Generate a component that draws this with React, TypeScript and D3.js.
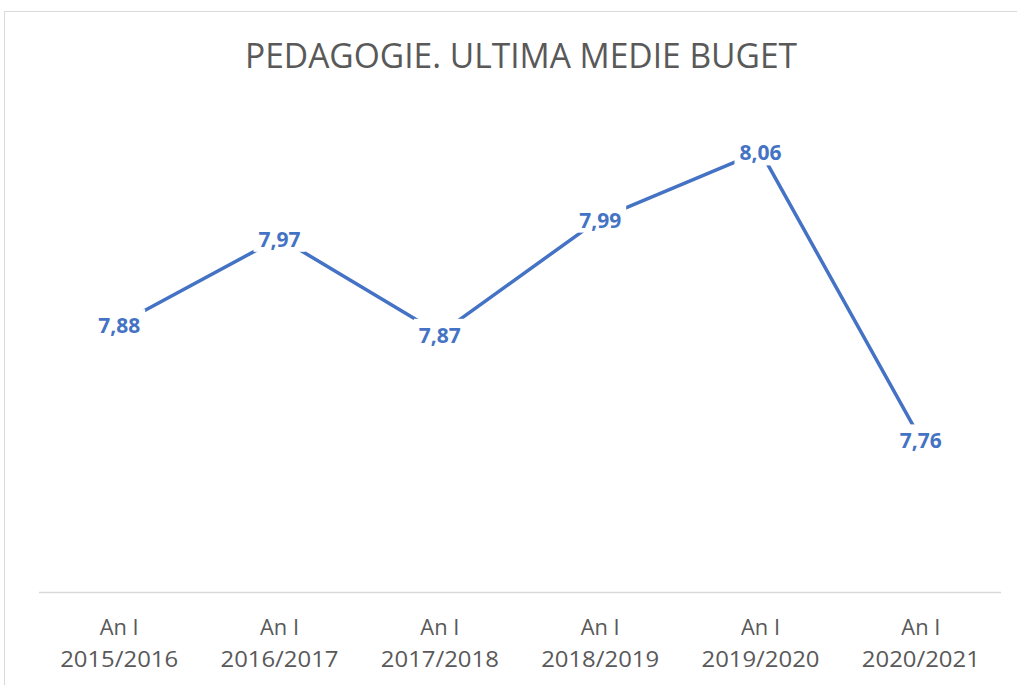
import React from "react";
import * as d3 from "d3";

const categories = ["An I|2015/2016", "An I|2016/2017", "An I|2017/2018", "An I|2018/2019", "An I|2019/2020", "An I|2020/2021"];
const values = [7.88, 7.97, 7.87, 7.99, 8.06, 7.76];
const title = "PEDAGOGIE. ULTIMA MEDIE BUGET";

const W = 1017;
const H = 685;
const FONT = "'Open Sans', 'Liberation Sans', sans-serif";

export default function App() {
  const x = d3.scaleBand<string>().domain(categories).range([39, 1001]);
  const y = d3.scaleLinear().domain([7.6, 8.1]).range([593, 113]);
  const cx = (c: string) => (x(c) as number) + x.bandwidth() / 2;
  const line = d3
    .line<number>()
    .x((_, i) => cx(categories[i]))
    .y((v) => y(v));
  const fmt = (v: number) => v.toFixed(2).replace(".", ",");

  return (
    <svg width={W} height={H} style={{ position: "absolute", left: 0, top: 0, background: "#fff" }}>
      <rect x={4.5} y={11.5} width={W + 20} height={H + 20} fill="#fff" stroke="#d9d9d9" strokeWidth={1} />
      <text x={521} y={68} textAnchor="middle" fontFamily={FONT} fontSize={34} fill="#595959" textLength={552} lengthAdjust="spacingAndGlyphs">
        {title}
      </text>
      <line x1={39} x2={1001} y1={592.5} y2={592.5} stroke="#d9d9d9" strokeWidth={1.5} />
      {categories.map((c) => {
        const [a, b] = c.split("|");
        return (
          <g key={c} fontFamily={FONT} fontSize={21} fill="#595959" textAnchor="middle">
            <text x={cx(c)} y={635} textLength={39} lengthAdjust="spacingAndGlyphs">{a}</text>
            <text x={cx(c)} y={667} textLength={118} lengthAdjust="spacingAndGlyphs">{b}</text>
          </g>
        );
      })}
      <path d={line(values) || ""} fill="none" stroke="#4472C4" strokeWidth={3.5} strokeLinejoin="round" />
      {values.map((v, i) => {
        const px = cx(categories[i]);
        const py = y(v);
        return (
          <g key={i}>
            <rect x={px - 26} y={py - 15} width={52} height={29} fill="#fff" />
            <text x={px} y={py + 9} textAnchor="middle" fontFamily={FONT} fontSize={22} fontWeight="bold" fill="#4472C4" textLength={42} lengthAdjust="spacingAndGlyphs">
              {fmt(v)}
            </text>
          </g>
        );
      })}
    </svg>
  );
}
